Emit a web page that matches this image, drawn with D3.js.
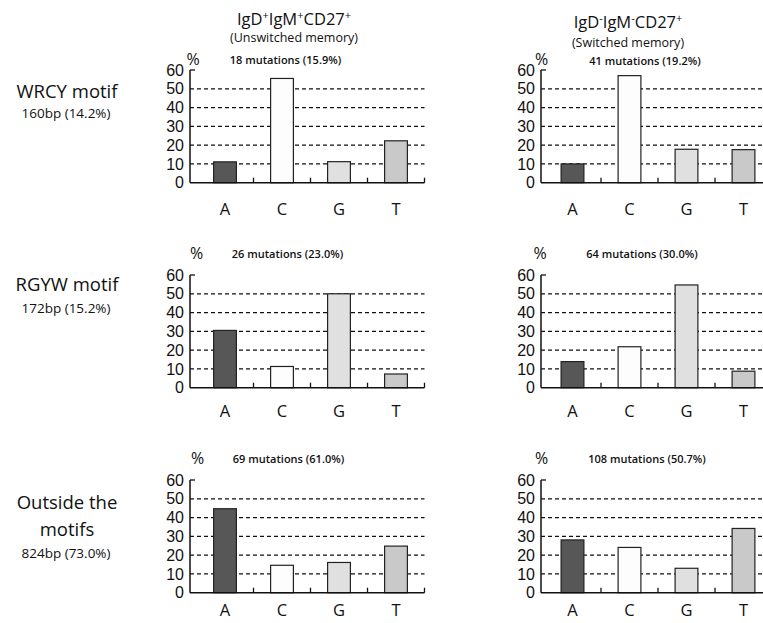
<!DOCTYPE html>
<html>
<head>
<meta charset="utf-8">
<script src="https://cdn.jsdelivr.net/npm/d3@7"></script>
<style>
  html, body { margin: 0; padding: 0; background: #fff; }
  svg { display: block; font-family: "Open Sans", "Noto Sans", sans-serif; }
</style>
</head>
<body>
<svg id="chart" width="763" height="623"></svg>
<script>
// ---------------- data ----------------
const categories = ["A", "C", "G", "T"];
const yTicks = [0, 10, 20, 30, 40, 50, 60];

const rowTitles = ["WRCY motif", "RGYW motif", "Outside the|motifs"];
const rowSubtitles = ["160bp (14.2%)", "172bp (15.2%)", "824bp (73.0%)"];

const colTitleParts = [
  [["IgD", ""], ["+", "sup"], ["IgM", ""], ["+", "sup"], ["CD27", ""], ["+", "sup"]],
  [["IgD", ""], ["-", "sup"], ["IgM", ""], ["-", "sup"], ["CD27", ""], ["+", "sup"]]
];
const colSubtitles = ["(Unswitched memory)", "(Switched memory)"];

const mutationLabels = [
  ["18 mutations (15.9%)", "41 mutations (19.2%)"],
  ["26 mutations (23.0%)", "64 mutations (30.0%)"],
  ["69 mutations (61.0%)", "108 mutations (50.7%)"]
];

const wrcyUnswitched    = [11.1, 55.5, 11.2, 22.3];
const wrcySwitched      = [10.0, 57.0, 17.8, 17.6];
const rgywUnswitched    = [30.5, 11.3, 50.0, 7.3];
const rgywSwitched      = [13.9, 21.8, 54.7, 8.8];
const outsideUnswitched = [44.7, 14.6, 16.1, 24.8];
const outsideSwitched   = [28.1, 24.1, 13.0, 34.2];

const panelValues = [
  [wrcyUnswitched, wrcySwitched],
  [rgywUnswitched, rgywSwitched],
  [outsideUnswitched, outsideSwitched]
];

// ---------------- layout ----------------
const barFill = { A: "#575757", C: "#fdfdfd", G: "#e0e0e0", T: "#c9c9c9" };
const rowBase = [182.7, 387.7, 592.7];     // y of value 0
const plotH = 112.7;                        // height for value 60
const catLabelOffset = [32, 29, 23];
const colAxisX = [190, 541];
const colBandStart = [196.5, 544];
const step = 57;
const pctPos = [[[193, 65], [541.5, 65]], [[196.5, 259], [540, 259]], [[197.5, 464], [541.5, 464]]];
const mutPos = [[[285.5, 64], [645, 65]], [[287.5, 258], [642, 258]], [[288.5, 463], [647, 463]]];

const svg = d3.select("#chart");

// column headers
const headerX = [294, 628];
const headerY = [25, 28];
const subY = [42, 47];
colTitleParts.forEach((parts, c) => {
  const t = svg.append("text")
    .attr("x", headerX[c]).attr("y", headerY[c])
    .attr("text-anchor", "middle")
    .attr("font-size", 16.5).attr("fill", "#111");
  let shift = 0;
  parts.forEach(([s, kind]) => {
    const sp = t.append("tspan").text(s);
    if (kind === "sup") {
      sp.attr("font-size", 11).attr("dy", -6 - shift);
      shift = -6;
    } else {
      if (shift !== 0) sp.attr("dy", -shift);
      shift = 0;
    }
  });
  svg.append("text")
    .attr("x", headerX[c]).attr("y", subY[c])
    .attr("text-anchor", "middle")
    .attr("font-size", 12.5).attr("fill", "#111")
    .text(colSubtitles[c]);
});

// row labels (one text block per row, lines as tspans)
const rowTitleY = [[97.5], [291], [509, 536]];
const rowSubY = [117.5, 313, 558];
rowTitles.forEach((title, r) => {
  const t = svg.append("text")
    .attr("text-anchor", "middle").attr("fill", "#111");
  title.split("|").forEach((line, i) => {
    t.append("tspan")
      .attr("x", 67).attr("y", rowTitleY[r][i])
      .attr("font-size", 18.5)
      .text(line);
  });
  t.append("tspan")
    .attr("x", 66).attr("y", rowSubY[r])
    .attr("font-size", 13.5)
    .text(rowSubtitles[r]);
});

// panels
panelValues.forEach((rowVals, r) => {
  rowVals.forEach((vals, c) => {
    const y = d3.scaleLinear().domain([0, 60]).range([rowBase[r], rowBase[r] - plotH]);
    const x = d3.scaleBand().domain(categories)
      .range([colBandStart[c], colBandStart[c] + step * categories.length])
      .paddingInner(0.6).paddingOuter(0.3);
    const ax = colAxisX[c];
    const xEnd = colBandStart[c] + step * categories.length;
    const g = svg.append("g");

    // dashed gridlines
    g.selectAll("line.grid").data(yTicks.filter(t => t > 0 && t < 60)).join("line")
      .attr("x1", ax).attr("x2", xEnd)
      .attr("y1", d => y(d)).attr("y2", d => y(d))
      .attr("stroke", "#111").attr("stroke-width", 1.3)
      .attr("stroke-dasharray", "4,3");

    // bars
    g.selectAll("rect.bar").data(categories.map((k, i) => ({ k, v: vals[i] }))).join("rect")
      .attr("x", d => x(d.k)).attr("width", x.bandwidth())
      .attr("y", d => y(d.v)).attr("height", d => y(0) - y(d.v))
      .attr("fill", d => barFill[d.k])
      .attr("stroke", "#222").attr("stroke-width", 1.2);

    // y axis
    const yAxis = d3.axisLeft(y).tickValues(yTicks).tickSize(0).tickPadding(6);
    const ya = g.append("g").attr("transform", `translate(${ax},0)`).call(yAxis);
    ya.select(".domain").remove();
    ya.selectAll("text").attr("font-size", 16).attr("fill", "#111")
      .attr("font-family", "'Liberation Sans', Arial, sans-serif");
    g.append("line").attr("x1", ax).attr("x2", ax)
      .attr("y1", y(60)).attr("y2", y(0))
      .attr("stroke", "#111").attr("stroke-width", 1.5);
    g.append("line").attr("x1", ax).attr("x2", ax + 5)
      .attr("y1", y(60)).attr("y2", y(60))
      .attr("stroke", "#111").attr("stroke-width", 1.3);

    // x axis baseline and ticks
    g.append("line").attr("x1", ax).attr("x2", xEnd)
      .attr("y1", y(0)).attr("y2", y(0))
      .attr("stroke", "#111").attr("stroke-width", 1.5);
    g.selectAll("line.xt").data(d3.range(1, categories.length + 1)).join("line")
      .attr("x1", i => colBandStart[c] + i * step).attr("x2", i => colBandStart[c] + i * step)
      .attr("y1", y(0)).attr("y2", y(0) - 5)
      .attr("stroke", "#111").attr("stroke-width", 1.3);

    // category labels
    g.selectAll("text.cat").data(categories).join("text")
      .attr("x", d => x(d) + x.bandwidth() / 2)
      .attr("y", rowBase[r] + catLabelOffset[r])
      .attr("text-anchor", "middle")
      .attr("font-size", 16.5).attr("fill", "#111")
      .text(d => d);

    // % and mutation label
    g.append("text").attr("x", pctPos[r][c][0]).attr("y", pctPos[r][c][1])
      .attr("text-anchor", "middle").attr("font-size", 16).attr("fill", "#111").text("%");
    g.append("text").attr("x", mutPos[r][c][0]).attr("y", mutPos[r][c][1])
      .attr("text-anchor", "middle").attr("font-size", 11).attr("font-weight", 600)
      .attr("fill", "#111").text(mutationLabels[r][c]);
  });
});
</script>
</body>
</html>
